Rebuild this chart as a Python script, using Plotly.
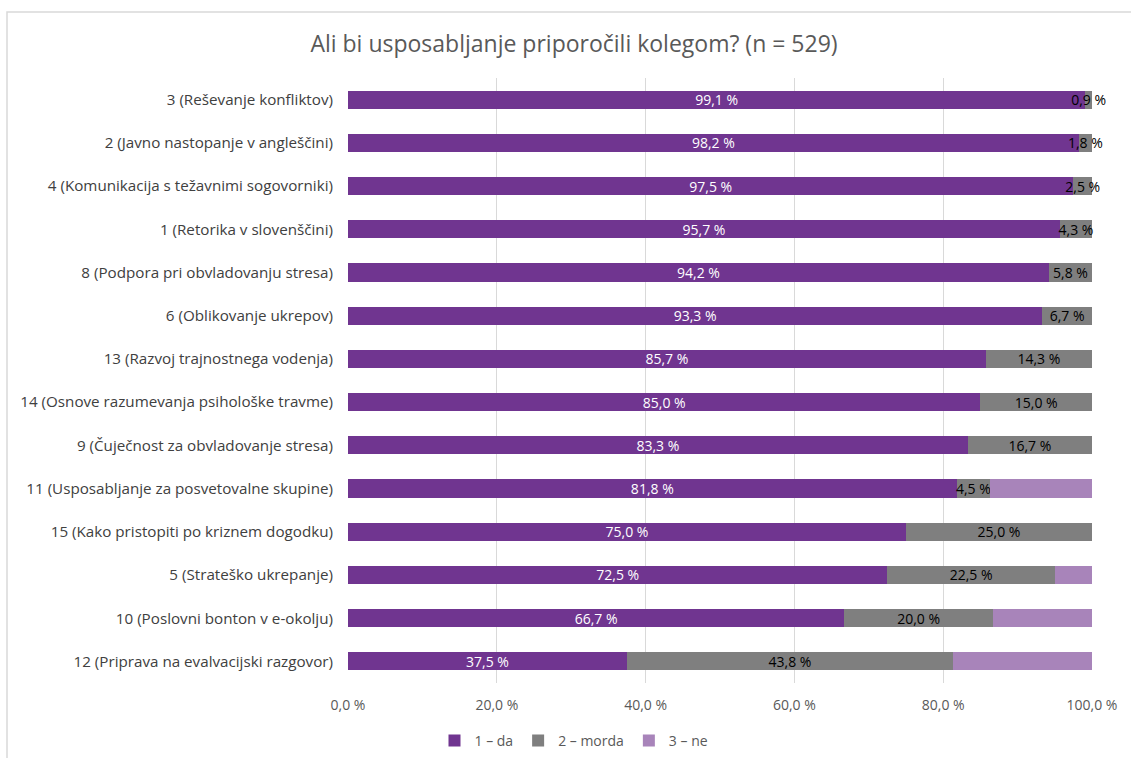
import plotly.graph_objects as go

# Training courses, top to bottom
courses = [
    "3 (Reševanje konfliktov)",
    "2 (Javno nastopanje v angleščini)",
    "4 (Komunikacija s težavnimi sogovorniki)",
    "1 (Retorika v slovenščini)",
    "8 (Podpora pri obvladovanju stresa)",
    "6 (Oblikovanje ukrepov)",
    "13 (Razvoj trajnostnega vodenja)",
    "14 (Osnove razumevanja psihološke travme)",
    "9 (Čuječnost za obvladovanje stresa)",
    "11 (Usposabljanje za posvetovalne skupine)",
    "15 (Kako pristopiti po kriznem dogodku)",
    "5 (Strateško ukrepanje)",
    "10 (Poslovni bonton v e-okolju)",
    "12 (Priprava na evalvacijski razgovor)",
]

# Share of answers (%)
da = [99.1, 98.2, 97.5, 95.7, 94.2, 93.3, 85.7, 85.0, 83.3, 81.8, 75.0, 72.5, 66.7, 37.5]
morda = [0.9, 1.8, 2.5, 4.3, 5.8, 6.7, 14.3, 15.0, 16.7, 4.5, 25.0, 22.5, 20.0, 43.8]
ne = [0.0, 0.0, 0.0, 0.0, 0.0, 0.0, 0.0, 0.0, 0.0, 13.7, 0.0, 5.0, 13.3, 18.7]

series_names = ["1 – da", "2 – morda", "3 – ne"]
tick_vals = [0, 20, 40, 60, 80, 100]


def pct(v):
    return f"{v:.1f} %".replace(".", ",")


FONT = "Open Sans"
W, H = 1131, 758
L, R, T, B = 348, 39, 78, 75

fig = go.Figure()
fig.add_trace(go.Bar(
    y=courses, x=da, orientation="h", name=series_names[0],
    marker=dict(color="#703590", line=dict(width=0)),
    text=[pct(v) for v in da], textposition="inside", textangle=0,
    insidetextanchor="middle", constraintext="none", cliponaxis=False,
    textfont=dict(color="white", size=14, family=FONT),
    hoverinfo="x+y",
))
fig.add_trace(go.Bar(
    y=courses, x=morda, orientation="h", name=series_names[1],
    marker=dict(color="#7F7F7F", line=dict(width=0)),
    text=[pct(v) for v in morda], textposition="inside", textangle=0,
    insidetextanchor="middle", constraintext="none", cliponaxis=False,
    textfont=dict(color="black", size=14, family=FONT),
    hoverinfo="x+y",
))
fig.add_trace(go.Bar(
    y=courses, x=ne, orientation="h", name=series_names[2],
    marker=dict(color="#A884BA", line=dict(width=0)),
    cliponaxis=False,
    hoverinfo="x+y",
))

pw, ph = W - L - R, H - T - B
# light frame around the chart
fig.add_shape(
    type="rect", xref="paper", yref="paper", layer="below",
    x0=(7 - L) / pw, x1=(W + 20 - L) / pw,
    y0=(H - B - (H + 20)) / ph, y1=(H - B - 12) / ph,
    line=dict(color="#D9D9D9", width=1.5), fillcolor="rgba(0,0,0,0)",
)

fig.update_layout(
    width=W, height=H,
    barmode="stack", bargap=0.58,
    margin=dict(l=L, r=R, t=T, b=B, autoexpand=False),
    paper_bgcolor="white", plot_bgcolor="white",
    font=dict(family=FONT, color="#595959", size=13),
    title=dict(
        text="Ali bi usposabljanje priporočili kolegom? (n = 529)",
        x=574 / W, xref="container", xanchor="center",
        y=(H - 44) / H, yanchor="middle",
        font=dict(size=23, color="#595959", family=FONT),
    ),
    xaxis=dict(
        range=[0, 100], tickvals=tick_vals,
        ticktext=[pct(v) for v in tick_vals],
        showgrid=True, gridcolor="#D9D9D9", gridwidth=1,
        zeroline=False, showline=False, ticks="",
        ticklabelstandoff=12,
        tickfont=dict(size=14, color="#595959"),
        fixedrange=True,
    ),
    yaxis=dict(
        categoryorder="array", categoryarray=courses,
        autorange="reversed", showgrid=False, ticks="",
        ticklabelstandoff=14,
        tickfont=dict(size=15.2, color="#404040"),
        fixedrange=True,
    ),
    legend=dict(
        orientation="h", x=574 / W, xref="container", xanchor="center",
        y=(H - 741) / H, yref="container", yanchor="middle",
        font=dict(size=14, color="#595959"),
        traceorder="normal", itemwidth=30,
    ),
    showlegend=True,
)

fig.write_html("out.html")
